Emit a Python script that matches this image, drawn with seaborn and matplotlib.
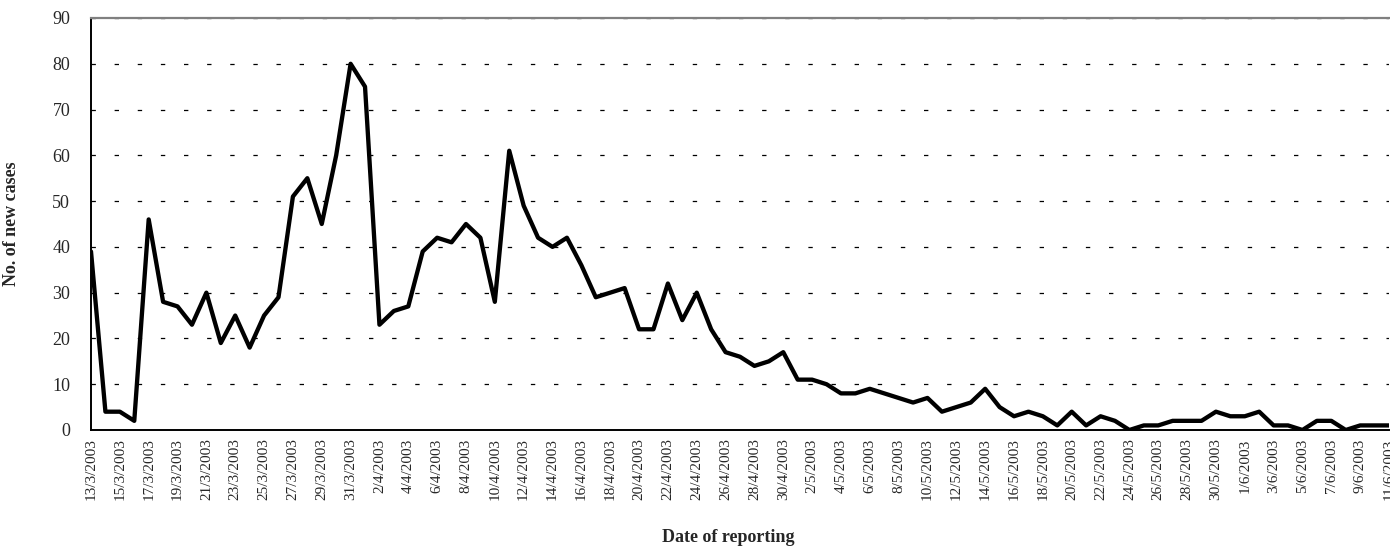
import matplotlib
matplotlib.use("Agg")
import matplotlib.pyplot as plt
import seaborn as sns
import pandas as pd

# ---- data ----
dates = pd.date_range("2003-03-13", "2003-06-11", freq="D")
new_cases = [
    39, 4, 4, 2, 46, 28, 27, 23, 30, 19, 25, 18, 25, 29, 51, 55, 45, 60, 80,   # 13/3 - 31/3
    75, 23, 26, 27, 39, 42, 41, 45, 42, 28, 61, 49, 42, 40, 42, 36, 29, 30, 31,
    22, 22, 32, 24, 30, 22, 17, 16, 14, 15, 17,                                # 1/4 - 30/4
    11, 11, 10, 8, 8, 9, 8, 7, 6, 7, 4, 5, 6, 9, 5, 3, 4, 3, 1, 4, 1, 3, 2, 0,
    1, 1, 2, 2, 2, 4, 3,                                                       # 1/5 - 31/5
    3, 4, 1, 1, 0, 2, 2, 0, 1, 1, 1,                                           # 1/6 - 11/6
]
tick_dates = dates[::2]
tick_labels = [f"{d.day}/{d.month}/{d.year}" for d in tick_dates]
y_ticks = [0, 10, 20, 30, 40, 50, 60, 70, 80, 90]

df = pd.DataFrame({"date": dates, "cases": new_cases})

# ---- style ----
sns.set_style("white")
plt.rcParams["font.family"] = ["Liberation Serif", "DejaVu Serif"]

W, H = 1390, 547
fig = plt.figure(figsize=(W / 100, H / 100), dpi=100)
left, right, top, bottom = 91, 1389, 18, 430
ax = fig.add_axes([left / W, (H - bottom) / H, (right - left) / W, (bottom - top) / H])

sns.lineplot(data=df, x="date", y="cases", ax=ax, color="black", linewidth=3.1)

ax.set_xlim(dates[0], dates[-1])
ax.set_ylim(0, 90)
ax.set_yticks(y_ticks)
ax.set_yticklabels([str(v) for v in y_ticks], fontsize=13)
ax.set_xticks(tick_dates)
ax.set_xticklabels(tick_labels, rotation=90, fontsize=11)

ax.tick_params(axis="x", direction="in", length=5, width=1, pad=6, color="black")
ax.tick_params(axis="y", length=0, pad=15)

ax.yaxis.grid(True, color="black", linewidth=0.9, linestyle=(0, (3.5, 15)))
ax.xaxis.grid(False)
ax.set_axisbelow(True)

for s in ["left", "bottom"]:
    ax.spines[s].set_color("black")
    ax.spines[s].set_linewidth(1.4)
ax.spines["top"].set_color("#808080")
ax.spines["top"].set_linewidth(1.6)
ax.spines["right"].set_visible(False)

ax.set_ylabel("No. of new cases", fontsize=13, fontweight="bold")
ax.set_xlabel("Date of reporting", fontsize=13, fontweight="bold")
ax.yaxis.set_label_coords((20 - left) / (right - left), 0.5)
ax.xaxis.set_label_coords((728 - left) / (right - left), -(529 - bottom) / (bottom - top))

fig.savefig("out.png", dpi=100)
